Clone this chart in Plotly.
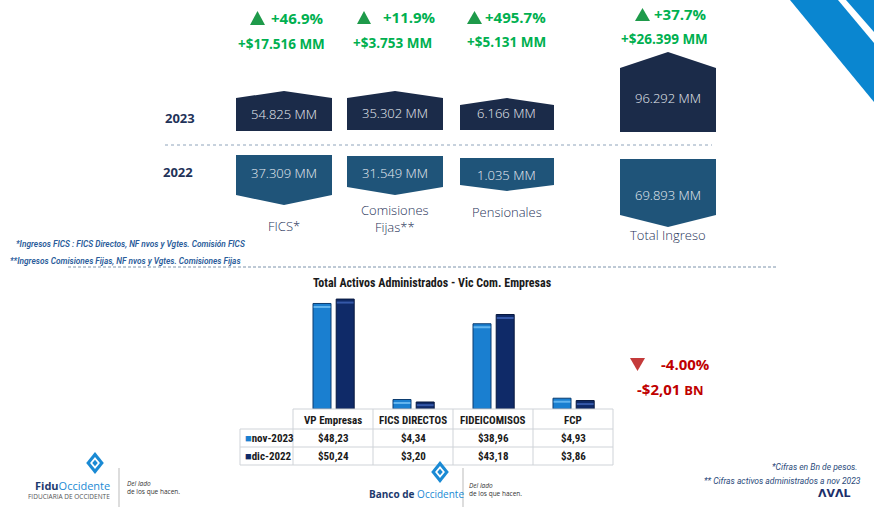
import plotly.graph_objects as go

W, H = 874, 518
def X(px): return px / W
def Y(py): return 1 - py / H

# ---------------- data ----------------
ing_labels = ["FICS*", "Comisiones<br>Fijas**", "Pensionales", "Total Ingreso"]
ing_2023 = [54825, 35302, 6166, 96292]
ing_2022 = [37309, 31549, 1035, 69893]
var_pct = [46.9, 11.9, 495.7, 37.7]
var_abs = [17516, 3753, 5131, 26399]
years = ["2023", "2022"]

act_title = "Total Activos Administrados - Vic Com. Empresas"
act_cats = ["VP Empresas", "FICS DIRECTOS", "FIDEICOMISOS", "FCP"]
nov_2023 = [48.23, 4.34, 38.96, 4.93]
dic_2022 = [50.24, 3.20, 43.18, 3.86]
series_names = ["nov-2023", "dic-2022"]
total_var_pct = -4.00
total_var_abs = -2.01

notes_left = ["*Ingresos FICS : FICS Directos, NF nvos y Vgtes. Comisión FICS",
              "**Ingresos Comisiones Fijas, NF nvos y Vgtes. Comisiones Fijas"]
notes_right = ["*Cifras en Bn de pesos.", "** Cifras activos administrados a nov 2023"]

# ---------------- styles ----------------
C23 = "#1b2b49"
C22 = "#1f5479"
GREEN = "#00b050"
GREEN_T = "#1e9a4a"
RED = "#c00000"
NAVY = "#1f3359"
C_NOV = "#1a7fd0"
C_DIC = "#0f2a68"
SANS = "Open Sans, Noto Sans, sans-serif"
NARROW = "Liberation Sans Narrow, Roboto Condensed, Roboto, sans-serif"

def mm(v):
    return f"{v:,}".replace(",", ".") + " MM"

def money(v):
    return "$" + f"{v:.2f}".replace(".", ",")

fig = go.Figure()

# ---------------- bar chart ----------------
pos = list(range(len(act_cats)))
fig.add_trace(go.Bar(x=pos, y=nov_2023, name=series_names[0], width=0.225, offset=-0.25,
                     marker=dict(color=C_NOV, line=dict(color="#0c3d70", width=1)),
                     hoverinfo="y"))
fig.add_trace(go.Bar(x=pos, y=dic_2022, name=series_names[1], width=0.225, offset=0.04,
                     marker=dict(color=C_DIC, line=dict(color="#07173d", width=1)),
                     hoverinfo="y"))
# glossy highlight strokes near bar tops
fig.add_trace(go.Scatter(x=[p - 0.1375 for p in pos], y=[v - min(1.6, v * 0.45) for v in nov_2023],
                         mode="markers", hoverinfo="skip",
                         marker=dict(symbol="line-ew", size=12, line=dict(color="#62b4ee", width=2))))
fig.add_trace(go.Scatter(x=[p + 0.1525 for p in pos], y=[v - min(1.6, v * 0.45) for v in dic_2022],
                         mode="markers", hoverinfo="skip",
                         marker=dict(symbol="line-ew", size=12, line=dict(color="#3558a8", width=2))))

shapes = []
ann = []

def text(x, y, s, size=12, color="#222", family=SANS, xanchor="center", weight="normal",
         style="normal", yanchor="middle"):
    ann.append(dict(x=X(x), y=Y(y), xref="paper", yref="paper", text=s, showarrow=False,
                    xanchor=xanchor, yanchor=yanchor,
                    font=dict(size=size, color=color, family=family, weight=weight, style=style)))

def poly(pts, color, line_color=None):
    path = "M " + " L ".join(f"{X(a)},{Y(b)}" for a, b in pts) + " Z"
    shapes.append(dict(type="path", path=path, xref="paper", yref="paper",
                       fillcolor=color, line=dict(color=line_color or color, width=0)))

def line(x0, y0, x1, y1, color, width=1, dash="solid"):
    shapes.append(dict(type="line", x0=X(x0), y0=Y(y0), x1=X(x1), y1=Y(y1), xref="paper",
                       yref="paper", line=dict(color=color, width=width, dash=dash)))

# ---------------- top decoration ----------------
poly([(790, 0), (838, 0), (874, 43), (874, 102)], "#0a86d0")
poly([(846, 0), (874, 0), (874, 32)], "#0a86d0")

# ---------------- income boxes ----------------
geo = [
    dict(x0=236, x1=332, t23=(91, 98, 131), t22=(155, 195, 205), y23=114, y22=173, lab_y=226,
         tri=(250, 265, 11, 25), pct_x=269, pct_y=18, abs_x=281, abs_y=44),
    dict(x0=347, x1=443, t23=(91, 98, 130), t22=(156, 187, 195), y23=113, y22=173, lab_y=219,
         tri=(357, 371, 11, 24), pct_x=381, pct_y=17, abs_x=392, abs_y=43),
    dict(x0=460, x1=554, t23=(98, 105, 130), t22=(158, 185, 191), y23=113, y22=175, lab_y=212,
         tri=(467, 482, 11, 24), pct_x=483, pct_y=17, abs_x=506, abs_y=42),
    dict(x0=620, x1=716, t23=(52, 68, 132), t22=(159, 215, 227), y23=98, y22=195, lab_y=235,
         tri=(635, 650, 8, 21), pct_x=652, pct_y=14, abs_x=664, abs_y=39),
]
for i, g in enumerate(geo):
    x0, x1 = g["x0"], g["x1"]
    xc = (x0 + x1) / 2
    pk, sh, bt = g["t23"]
    poly([(x0, sh), (xc, pk), (x1, sh), (x1, bt), (x0, bt)], C23)
    tp, sh2, pt = g["t22"]
    poly([(x0, tp), (x1, tp), (x1, sh2), (xc, pt), (x0, sh2)], C22)
    text(xc, g["y23"], mm(ing_2023[i]), size=13, color="#e8ecf2", weight=300)
    text(xc, g["y22"], mm(ing_2022[i]), size=13, color="#e8ecf2", weight=300)
    text(xc, g["lab_y"], ing_labels[i], size=13, color=NAVY, weight=300)
    a, b, c, d = g["tri"]
    poly([(a, d), ((a + b) / 2, c), (b, d)], GREEN_T)
    text(g["pct_x"], g["pct_y"], f"+{var_pct[i]:.1f}%", size=15, color=GREEN, weight="bold",
         xanchor="left")
    text(g["abs_x"], g["abs_y"], "+$" + f"{var_abs[i]:,}".replace(",", ".") + " MM", size=13.5,
         color=GREEN, weight="bold")

text(180, 118, years[0], size=13, color=NAVY, weight="bold")
text(178, 172, years[1], size=13, color=NAVY, weight="bold")
line(165, 145, 712, 145, "#8fa4bb", 1, "dot")

# footnotes
text(14, 244, notes_left[0], size=8.3, color="#2a5c9a", family="Roboto, sans-serif",
     style="italic", weight=600, xanchor="left")
text(8, 261, notes_left[1], size=8.3, color="#2a5c9a", family="Roboto, sans-serif",
     style="italic", weight=600, xanchor="left")
line(68, 267, 776, 267, "#7d93ab", 1, "3px,2px")

# ---------------- bar chart title & table ----------------
text(432, 283, act_title, size=12, color="#1a1a1a", family=NARROW, weight="bold")

TL = "#cfd3d8"
line(293, 409, 613, 409, TL)
for yy in (429, 447, 465):
    line(240, yy, 613, yy, TL)
for xx in (293, 373, 453, 533, 613):
    line(xx, 409, xx, 465, TL)
line(240, 429, 240, 465, TL)

for i, c in enumerate(act_cats):
    cx = 333 + 80 * i
    text(cx, 420, c, size=11, color="#1a1a1a", family=NARROW, weight="bold")
    text(cx, 438, money(nov_2023[i]), size=11, color="#1a1a1a", family=NARROW, weight="bold")
    text(cx, 456, money(dic_2022[i]), size=11, color="#1a1a1a", family=NARROW, weight="bold")
text(243, 438, f"<span style='color:{C_NOV}'>■</span>{series_names[0]}", size=11,
     color="#1a1a1a", family=NARROW, weight="bold", xanchor="left")
text(243, 456, f"<span style='color:{C_DIC}'>■</span>{series_names[1]}", size=11,
     color="#1a1a1a", family=NARROW, weight="bold", xanchor="left")

# variation of total
poly([(630, 358), (645, 358), (637.5, 371)], "#c43a3a")
text(659, 364, f"{total_var_pct:.2f}%", size=15, color=RED, weight="bold", xanchor="left")
text(635, 389, "-$" + f"{abs(total_var_abs):.2f}".replace(".", ",") +
     " <span style='font-size:13px'>BN</span>", size=15, color=RED, weight="bold", xanchor="left")

# ---------------- logos & notes at bottom ----------------
def logo_icon(cx, cy, s):
    poly([(cx, cy - s), (cx + s * 0.8, cy), (cx, cy + s), (cx - s * 0.8, cy)], "#1a8ad4")
    poly([(cx, cy - s * 0.55), (cx + s * 0.45, cy), (cx, cy + s * 0.55), (cx - s * 0.45, cy)], "white")
    poly([(cx, cy - s * 0.3), (cx + s * 0.25, cy), (cx, cy + s * 0.3), (cx - s * 0.25, cy)], "#1a8ad4")

logo_icon(95, 463, 11)
text(112, 485, "<b>Fidu</b><span style='color:#1a8ad4'>Occidente</span>", size=11,
     color="#1d3a6e", xanchor="right")
text(112, 496, "FIDUCIARIA DE OCCIDENTE", size=6.5, color="#555", xanchor="right")
line(119, 468, 119, 507, "#bbbbbb")
text(125, 483, "Del lado", size=6.5, color="#333", style="italic", xanchor="left")
text(125, 491, "de los que hacen.", size=6.5, color="#333", xanchor="left")

logo_icon(440, 472, 11)
text(367, 494, "<b>Banco de</b> <span style='color:#1a8ad4'>Occidente</span>", size=10,
     color="#1d3a6e", xanchor="left")
line(463, 468, 463, 507, "#bbbbbb")
text(467, 485, "Del lado", size=6.5, color="#333", style="italic", xanchor="left")
text(467, 493, "de los que hacen.", size=6.5, color="#333", xanchor="left")

text(860, 467, notes_right[0], size=8.5, color="#2a4a7a", family="Roboto, sans-serif",
     style="italic", xanchor="right")
text(863, 481, notes_right[1], size=8.5, color="#2a4a7a", family="Roboto, sans-serif",
     style="italic", xanchor="right")
text(834, 493, "ΛVΛL", size=11, color="#1d2f6a", family="DejaVu Sans, sans-serif",
     weight="bold")

fig.update_layout(
    width=W, height=H, margin=dict(l=0, r=0, t=0, b=0),
    paper_bgcolor="white", plot_bgcolor="rgba(0,0,0,0)",
    showlegend=False, barmode="overlay",
    xaxis=dict(domain=[X(293), X(613)], range=[-0.5, 3.5], visible=False, fixedrange=True),
    yaxis=dict(domain=[Y(409), Y(288)], range=[0, 55.3], visible=False, fixedrange=True),
    shapes=shapes, annotations=ann,
)

fig.write_html("out.html", config={"displayModeBar": False},
               post_script="document.body.style.margin='0px';document.body.style.overflow='hidden';")
